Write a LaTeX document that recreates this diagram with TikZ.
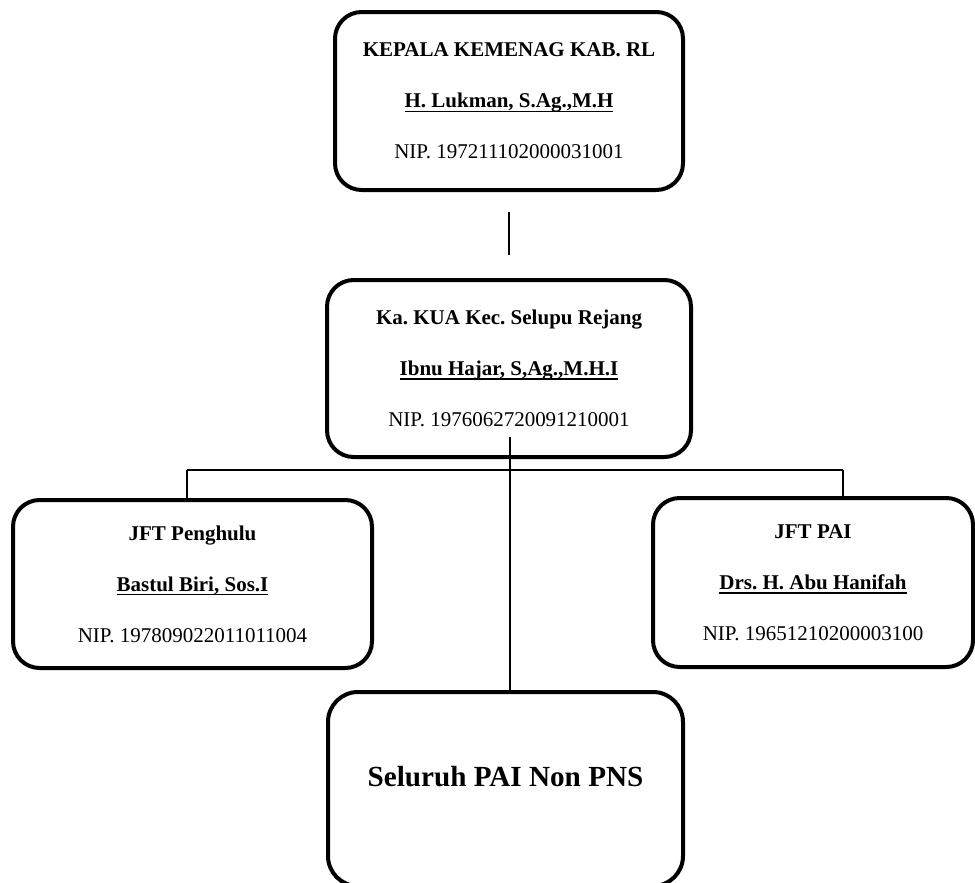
\documentclass[tikz,border=0pt]{standalone}
\usepackage{fontspec}
\setmainfont{Liberation Serif}
\usetikzlibrary{calc}
\newcommand{\nama}[1]{\setbox0\hbox{\textbf{#1}}\rlap{\rule[-2.6pt]{\wd0}{0.9pt}}\box0}
\frenchspacing

\begin{document}
\begin{tikzpicture}[
  x=0.6pt, y=-0.6pt,
  unit/.style={draw=black, line width=2.4pt, rounded corners=16pt, align=center,
               inner sep=0pt, fill=white, font=\fontsize{12.6pt}{30.6pt}\selectfont},
  link/.style={draw=black, line width=0.8pt}
]
  \useasboundingbox (0,0) rectangle (975,882);
  \node[unit, minimum width=208.8pt, minimum height=106.8pt] (kepala) at (509,101)
    {\textbf{KEPALA KEMENAG KAB. RL}\\ \nama{H. Lukman, S.Ag.,M.H}\\ NIP. 197211102000031001};
  \node[unit, minimum width=218.4pt, minimum height=106.2pt] (kakua) at (509,368.5)
    {\textbf{Ka. KUA Kec. Selupu Rejang}\\ \nama{Ibnu Hajar, S,Ag.,M.H.I}\\ NIP. 1976062720091210001};
  \node[unit, minimum width=215.4pt, minimum height=100.8pt] (penghulu) at (192.5,584)
    {\textbf{JFT Penghulu}\\ \nama{Bastul Biri, Sos.I}\\ NIP. 197809022011011004};
  \node[unit, minimum width=192pt, minimum height=101.4pt] (pai) at (813,582.5)
    {\textbf{JFT PAI}\\ \nama{Drs. H. Abu Hanifah}\\ NIP. 19651210200003100};
  \node[unit, rounded corners=18pt, minimum width=213pt, minimum height=116.4pt, text depth=15.6pt,
        font=\fontsize{17.5pt}{21pt}\selectfont] (nonpns) at (505.5,789)
    {\textbf{Seluruh PAI Non PNS}};

  % garis komando
  \draw[link, shorten <=12pt, shorten >=13.8pt] (kepala.south) -- (kakua.north);
  \coordinate (stem) at ($(kakua.south)+(1,-22)$);
  \draw[link] (stem) -- (stem |- nonpns.north);
  \coordinate (busL) at (187,470);
  \coordinate (busR) at (843,470);
  \draw[link] (busL) -- (busR);
  \draw[link] (busL) -- (busL |- penghulu.north);
  \draw[link] (busR) -- (busR |- pai.north);
\end{tikzpicture}
\end{document}
